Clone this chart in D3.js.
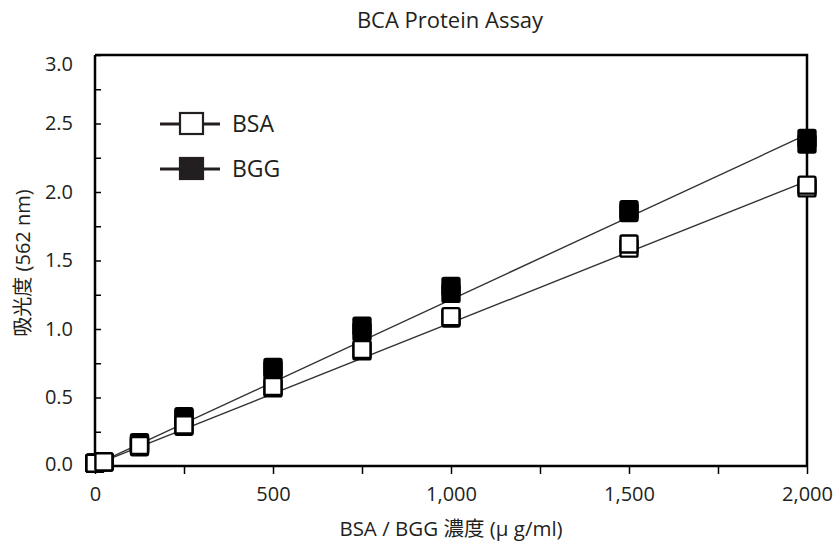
<!DOCTYPE html>
<html>
<head>
<meta charset="utf-8">
<script src="https://cdn.jsdelivr.net/npm/d3@7"></script>
<style>
    body { margin: 0; background: #fff; }
    text { font-family: "Open Sans", "Noto Sans CJK JP", sans-serif; fill: #231f20; }
</style>
</head>
<body>
<div id="chart"></div>
<script>
// concentrations (ug/ml)
var conc = [0, 25, 125, 250, 500, 750, 1000, 1500, 2000];

// absorbance at 562 nm, two replicates per standard
var bsaRep1 = [0.02, 0.03, 0.14, 0.29, 0.57, 0.84, 1.08, 1.59, 2.03];
var bsaRep2 = [0.02, 0.03, 0.15, 0.30, 0.58, 0.85, 1.09, 1.62, 2.05];
var bggRep1 = [0.02, 0.03, 0.16, 0.35, 0.70, 0.98, 1.26, 1.85, 2.35];
var bggRep2 = [0.02, 0.03, 0.17, 0.36, 0.72, 1.02, 1.31, 1.87, 2.39];

// fitted lines [x, y]
var bsaFit = [[0, 0.01], [2000, 2.08]];
var bggFit = [[0, 0.01], [2000, 2.42]];

// axis ticks
var yTicks = [0, 0.5, 1.0, 1.5, 2.0, 2.5, 3.0];
var yMinorTicks = [0.25, 0.75, 1.25, 1.75, 2.25, 2.75];
var xTicks = [0, 500, 1000, 1500, 2000];
var xAllTicks = [0, 250, 500, 750, 1000, 1250, 1500, 1750, 2000];

var legendItems = ["BSA", "BGG"];

var width = 835, height = 549;
var margin = { top: 55, right: 28, bottom: 83, left: 95 };
var w = width - margin.left - margin.right;
var h = height - margin.top - margin.bottom;

var svg = d3.select("#chart").append("svg")
    .attr("width", width)
    .attr("height", height);

var g = svg.append("g")
    .attr("transform", "translate(" + margin.left + "," + margin.top + ")");

var x = d3.scaleLinear().domain([0, 2000]).range([0, w]);
var y = d3.scaleLinear().domain([0, 3]).range([h, 0]);

var fmt = d3.format(",");

// title
svg.append("text")
    .attr("x", 450)
    .attr("y", 28)
    .style("text-anchor", "middle")
    .style("font-size", "22px")
    .text("BCA Protein Assay");

// frame top + right
g.append("path")
    .attr("d", "M0,0H" + w + "V" + h)
    .attr("fill", "none")
    .attr("stroke", "#000")
    .attr("stroke-width", 2.5);

// x axis: ticks every 250 pointing down
var xAxis = g.append("g")
    .attr("transform", "translate(0," + h + ")")
    .call(d3.axisBottom(x).tickValues(xAllTicks).tickSize(8).tickFormat(function(d) {
        return xTicks.indexOf(d) >= 0 ? fmt(d) : "";
    }));
xAxis.select(".domain").attr("stroke-width", 2.5).attr("d", "M0,0H" + w);
xAxis.selectAll(".tick line").attr("stroke-width", 1.5);
xAxis.selectAll("text")
    .attr("y", 21)
    .style("font-size", "20px")
    .style("font-family", "'Open Sans', sans-serif");

// y axis: ticks every 0.25 pointing inward
var yAxis = g.append("g")
    .call(d3.axisLeft(y).tickValues(yTicks.concat(yMinorTicks)).tickSize(-6).tickPadding(22).tickFormat(function(d) {
        return yTicks.indexOf(d) >= 0 ? d3.format(".1f")(d) : "";
    }));
yAxis.select(".domain").attr("stroke-width", 2.5).attr("d", "M0,0V" + h);
yAxis.selectAll(".tick line").attr("stroke-width", 1.5);
yAxis.selectAll("text")
    .style("font-size", "20px")
    .style("font-family", "'Open Sans', sans-serif")
    .attr("dy", function(d) {
        if (d == 3) return "0.75em";
        if (d == 0) return "0.2em";
        return "0.32em";
    });

// axis titles
svg.append("text")
    .attr("x", 451)
    .attr("y", 536)
    .style("text-anchor", "middle")
    .style("font-size", "20.5px")
    .text("BSA / BGG 濃度 (μ g/ml)");

svg.append("text")
    .attr("transform", "translate(30,263) rotate(-90)")
    .style("text-anchor", "middle")
    .style("font-size", "20px")
    .text("吸光度 (562 nm)");

// fitted lines
var line = d3.line()
    .x(function(d) { return x(d[0]); })
    .y(function(d) { return y(d[1]); });

[bggFit, bsaFit].forEach(function(fit) {
    g.append("path")
        .datum(fit)
        .attr("d", line)
        .attr("fill", "none")
        .attr("stroke", "#333")
        .attr("stroke-width", 1.4);
});

// markers
var sq = 17;
function drawSeries(vals, fill) {
    g.selectAll(null)
        .data(vals)
        .enter()
        .append("rect")
        .attr("x", function(d, i) { return x(conc[i]) - sq / 2; })
        .attr("y", function(d) { return y(d) - sq / 2; })
        .attr("width", sq)
        .attr("height", sq)
        .attr("rx", 1.5)
        .attr("fill", fill)
        .attr("stroke", "#000")
        .attr("stroke-width", 2.4);
}
drawSeries(bggRep1, "#000");
drawSeries(bggRep2, "#000");
drawSeries(bsaRep1, "#fff");
drawSeries(bsaRep2, "#fff");

// legend
var legend = svg.selectAll(".legend")
    .data(legendItems)
    .enter()
    .append("g")
    .attr("class", "legend")
    .attr("transform", function(d, i) { return "translate(160," + (124 + i * 45) + ")"; });

legend.append("line")
    .attr("x1", 0).attr("x2", 60)
    .attr("stroke", "#231f20")
    .attr("stroke-width", 3);

legend.append("rect")
    .attr("x", 20).attr("y", -11)
    .attr("width", 23).attr("height", 21)
    .attr("fill", function(d) { return d == "BSA" ? "#fff" : "#231f20"; })
    .attr("stroke", "#231f20")
    .attr("stroke-width", 2.2);

legend.append("text")
    .attr("x", 72)
    .attr("y", 8)
    .style("font-size", "23px")
    .text(function(d) { return d; });
</script>
</body>
</html>
